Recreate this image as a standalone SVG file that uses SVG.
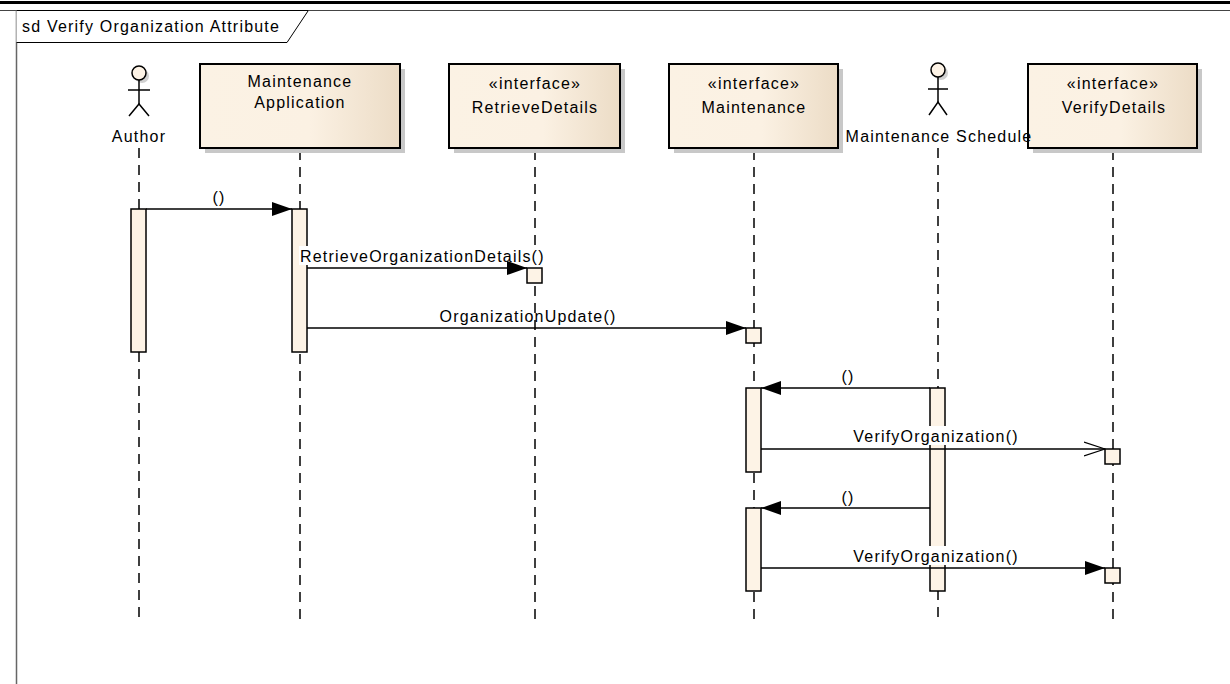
<svg xmlns="http://www.w3.org/2000/svg" width="1230" height="684" viewBox="0 0 1230 684">
<defs>
<linearGradient id="boxg" x1="0" y1="0" x2="1" y2="0">
<stop offset="0" stop-color="#fbf2e4"/>
<stop offset="0.55" stop-color="#fbf1e3"/>
<stop offset="1" stop-color="#ecdcc6"/>
</linearGradient>
<marker id="filled" viewBox="0 0 20 14" refX="20" refY="7" markerWidth="20" markerHeight="14" markerUnits="userSpaceOnUse" orient="auto">
<path d="M0,0 L20,7 L0,14 Z" fill="#000"/>
</marker>
<marker id="open" viewBox="0 0 22 16" refX="21" refY="8" markerWidth="22" markerHeight="16" markerUnits="userSpaceOnUse" orient="auto">
<path d="M0,1 L21,8 L0,15" fill="none" stroke="#000" stroke-width="1.2"/>
</marker>
</defs>
<style>
text{font-family:"Liberation Sans",Arial,sans-serif;font-size:16px;letter-spacing:1.2px;fill:#000}
.c{text-anchor:middle}
.box{fill:url(#boxg);stroke:#000;stroke-width:2}
.shadow{fill:#c8c8c8}
.life{stroke:#000;stroke-width:1.5;stroke-dasharray:10,7;fill:none}
.act{fill:#fdf3e6;stroke:#000;stroke-width:1.5}
.msg{stroke:#000;stroke-width:1.5;fill:none}
.actor{stroke:#000;stroke-width:1.5;fill:none}
.lbl{fill:#fff}
</style>
<rect width="1230" height="684" fill="#fff"/>
<line x1="0" y1="2.5" x2="1230" y2="2.5" stroke="#000" stroke-width="3"/>
<line x1="0" y1="10.5" x2="1230" y2="10.5" stroke="#444" stroke-width="1"/>
<g id="frame">
<line x1="16.5" y1="10" x2="16.5" y2="684" stroke="#666" stroke-width="1.5"/>
<path d="M16.5,10.5 L308,10.5 L308,11 L287,42.5 L16.5,42.5" fill="#fff" stroke="#000" stroke-width="1"/>
<text x="22" y="32">sd Verify Organization Attribute</text>
</g>
<g id="lifelines">
<line class="life" x1="139" y1="148" x2="139" y2="620"/>
<line class="life" x1="300" y1="150" x2="300" y2="620"/>
<line class="life" x1="535" y1="150" x2="535" y2="620"/>
<line class="life" x1="754" y1="150" x2="754" y2="620"/>
<line class="life" x1="938" y1="148" x2="938" y2="620"/>
<line class="life" x1="1113" y1="150" x2="1113" y2="620"/>
</g>
<g id="author">
<circle cx="142" cy="76" r="7" fill="#d0d0d0"/>
<circle cx="139" cy="73" r="7" fill="#fdf3e6" stroke="#000" stroke-width="1.5"/>
<line class="actor" x1="139" y1="80" x2="139" y2="104"/>
<line class="actor" x1="128" y1="90" x2="150" y2="90"/>
<path class="actor" d="M129,116 L139,104 L149,116"/>
<text class="c" x="139" y="142">Author</text>
</g>
<g id="maintenance-application">
<rect class="shadow" x="205" y="69" width="200" height="84"/>
<rect class="box" x="200" y="64" width="200" height="84"/>
<text class="c" x="300" y="87">Maintenance</text>
<text class="c" x="300" y="108">Application</text>
</g>
<g id="retrieve-details">
<rect class="shadow" x="454" y="69" width="171" height="84"/>
<rect class="box" x="449" y="64" width="171" height="84"/>
<text class="c" x="535" y="89">«interface»</text>
<text class="c" x="535" y="113">RetrieveDetails</text>
</g>
<g id="maintenance">
<rect class="shadow" x="674" y="69" width="169" height="84"/>
<rect class="box" x="669" y="64" width="169" height="84"/>
<text class="c" x="754" y="89">«interface»</text>
<text class="c" x="754" y="113">Maintenance</text>
</g>
<g id="verify-details">
<rect class="shadow" x="1033" y="69" width="169" height="84"/>
<rect class="box" x="1028" y="64" width="169" height="84"/>
<text class="c" x="1113" y="89">«interface»</text>
<text class="c" x="1114" y="113">VerifyDetails</text>
</g>
<g id="maintenance-schedule">
<circle cx="941" cy="73" r="7" fill="#d0d0d0"/>
<circle cx="938" cy="70" r="7" fill="#fdf3e6" stroke="#000" stroke-width="1.5"/>
<line class="actor" x1="938" y1="77" x2="938" y2="102"/>
<line class="actor" x1="928" y1="89" x2="948" y2="89"/>
<path class="actor" d="M929,115 L938,102 L947,115"/>
<text class="c" x="939" y="142">Maintenance Schedule</text>
</g>
<g id="activations">
<rect class="act" x="131" y="209" width="15" height="143"/>
<rect class="act" x="292" y="209" width="15" height="143"/>
<rect class="act" x="746" y="388" width="15" height="84"/>
<rect class="act" x="746" y="508" width="15" height="83"/>
</g>
<g id="connectors">
<line class="msg" x1="146" y1="209" x2="292" y2="209" marker-end="url(#filled)"/>
<text class="c" x="219" y="203">()</text>
<rect class="lbl" x="299" y="246" width="246" height="19"/>
<line class="msg" x1="307" y1="268" x2="527" y2="268" marker-end="url(#filled)"/>
<rect class="act" x="527" y="268" width="15" height="15"/>
<text x="300" y="262">RetrieveOrganizationDetails()</text>
<line class="msg" x1="307" y1="328" x2="746" y2="328" marker-end="url(#filled)"/>
<rect class="act" x="746" y="328" width="15" height="15"/>
<text class="c" x="528" y="322">OrganizationUpdate()</text>
<rect class="act" x="930" y="388" width="15" height="203"/>
<line class="msg" x1="930" y1="388" x2="761" y2="388" marker-end="url(#filled)"/>
<text class="c" x="848" y="382">()</text>
<rect class="lbl" x="849" y="426" width="174" height="19"/>
<line class="msg" x1="761" y1="449" x2="1105" y2="449" marker-end="url(#open)"/>
<rect class="act" x="1105" y="449" width="15" height="15"/>
<text class="c" x="936" y="442">VerifyOrganization()</text>
<line class="msg" x1="930" y1="508" x2="761" y2="508" marker-end="url(#filled)"/>
<text class="c" x="848" y="503">()</text>
<rect class="lbl" x="849" y="546" width="174" height="19"/>
<line class="msg" x1="761" y1="568" x2="1105" y2="568" marker-end="url(#filled)"/>
<rect class="act" x="1105" y="568" width="15" height="15"/>
<text class="c" x="936" y="562">VerifyOrganization()</text>
</g>
</svg>
